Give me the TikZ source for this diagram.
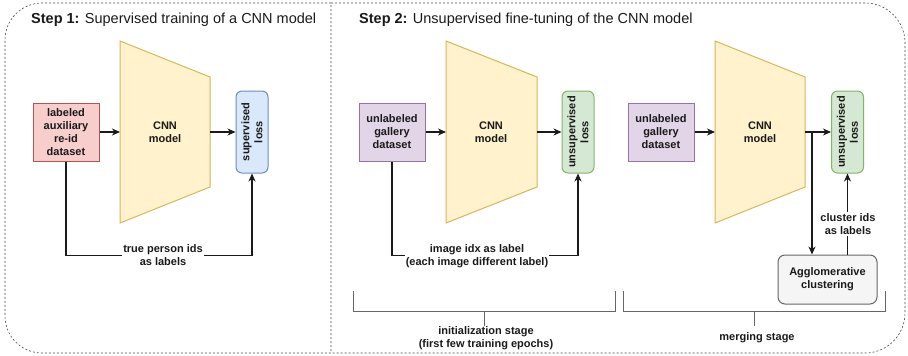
\documentclass[tikz,border=0pt]{standalone}
\usepackage{fontspec}
\setmainfont{Liberation Sans}
\usetikzlibrary{arrows.meta,calc}
\definecolor{redfill}{HTML}{F8CECC}\definecolor{redline}{HTML}{B85450}
\definecolor{yelfill}{HTML}{FFF2CC}\definecolor{yelline}{HTML}{D6B656}
\definecolor{bluefill}{HTML}{DAE8FC}\definecolor{blueline}{HTML}{6C8EBF}
\definecolor{purfill}{HTML}{E1D5E7}\definecolor{purline}{HTML}{9673A6}
\definecolor{grnfill}{HTML}{D5E8D4}\definecolor{grnline}{HTML}{82B366}
\definecolor{gryfill}{HTML}{F5F5F5}\definecolor{gryline}{HTML}{666666}
\definecolor{ink}{HTML}{1A1A1A}
\begin{document}
\begin{tikzpicture}[x=1pt,y=-1pt,
  txt/.style={font=\bfseries\fontsize{11}{13}\selectfont, text=ink, align=center, inner sep=1pt},
  databox/.style={txt, draw, line width=1pt, minimum width=66pt, minimum height=58pt},
  lossbox/.style={draw, line width=1pt, rounded corners=6pt, minimum width=32pt, minimum height=82pt},
  trap/.style={draw=yelline, fill=yelfill, line width=1pt},
  arr/.style={draw=ink, line width=1.2pt, -{Stealth[length=8pt,width=7pt,inset=2.5pt]}},
  lab/.style={txt, fill=white},
  brk/.style={draw=gryline, line width=1pt},
  panel/.style={draw=black!70, line width=0.6pt, dash pattern=on 2pt off 2pt},
  title/.style={anchor=west, font=\fontsize{14.5}{17}\selectfont, text=ink, inner sep=0pt}]
\useasboundingbox (0,0) rectangle (908,356);

% panels
\draw[panel] (331,3) -- (42,3) arc[start angle=270, end angle=180, radius=37] -- (5,316)
  arc[start angle=180, end angle=90, radius=37] -- (331,353) -- cycle;
\draw[panel] (331,3) -- (865,3) arc[start angle=270, end angle=360, radius=40] -- (905,313)
  arc[start angle=0, end angle=90, radius=40] -- (331,353);

\node[title] (title1) at (31,20) {\textbf{Step 1:} Supervised training of a CNN model};
\node[title] (title2) at (359,20) {\textbf{Step 2:} Unsupervised fine-tuning of the CNN model};

% ---------- Step 1
\node[databox, draw=redline, fill=redfill] (data1) at (66,132) {labeled\\auxiliary\\re-id\\dataset};
\draw[trap] (120,41) -- (210,77) -- (210,187) -- (120,223) -- cycle;
\node[txt] (cnn1) at (165,132) {CNN\\model};
\coordinate (t1w) at (120,132); \coordinate (t1e) at (210,132);
\node[lossbox, draw=blueline, fill=bluefill] (loss1) at (252,132) {};
\node[txt, rotate=90] (loss1t) at (loss1.center) {supervised\\loss};
\draw[arr] (data1.east) -- (t1w);
\draw[arr] (t1e) -- (loss1.west);
\draw[arr] (data1.south) -- ++(0,94) -| (loss1.south);
\node[lab] (lab1) at (163,255) {true person ids\\as labels};

% ---------- Step 2: initialization
\node[databox, draw=purline, fill=purfill] (data2) at (392,132) {unlabeled\\gallery\\dataset};
\draw[trap] (446,41) -- (537,77) -- (537,187) -- (446,223) -- cycle;
\node[txt] (cnn2) at (491,132) {CNN\\model};
\coordinate (t2w) at (446,132); \coordinate (t2e) at (537,132);
\node[lossbox, draw=grnline, fill=grnfill] (loss2) at (578,132) {};
\node[txt, rotate=90] (loss2t) at (loss2.center) {unsupervised\\loss};
\draw[arr] (data2.east) -- (t2w);
\draw[arr] (t2e) -- (loss2.west);
\draw[arr] (data2.south) -- ++(0,94) -| (loss2.south);
\node[lab] (lab2) at (477,256) {image idx as label\\(each image different label)};

\draw[brk] (353,291) -- (353,311) -- (615,311) -- (615,291);
\draw[brk] (484,311) -- (484,326);
\node[txt] (stage1) at (486,338) {initialization stage\\(first few training epochs)};

% ---------- Step 2: merging
\node[databox, draw=purline, fill=purfill] (data3) at (661,132) {unlabeled\\gallery\\dataset};
\draw[trap] (715,41) -- (805,77) -- (805,187) -- (715,223) -- cycle;
\node[txt] (cnn3) at (760,132) {CNN\\model};
\coordinate (t3w) at (715,132); \coordinate (t3e) at (805,132);
\node[lossbox, draw=grnline, fill=grnfill] (loss3) at (847.5,132) {};
\node[txt, rotate=90] (loss3t) at (loss3.center) {unsupervised\\loss};
\node[txt, draw=gryline, fill=gryfill, line width=1pt, rounded corners=7pt,
      minimum width=99pt, minimum height=49pt] (agg) at (827.5,279.5) {Agglomerative\\clustering};
\draw[arr] (data3.east) -- (t3w);
\draw[arr] (t3e) -- (loss3.west);
\coordinate (br) at (812,132);
\draw[arr] (br) -- (br |- agg.north);
\draw[arr] (loss3.south |- agg.north) -- (loss3.south);
\node[lab] (lab3) at (848,224) {cluster ids\\as labels};

\draw[brk] (623,291) -- (623,311) -- (885,311) -- (885,291);
\draw[brk] (754,311) -- (754,326);
\node[txt] (stage2) at (757,338) {merging stage};
\end{tikzpicture}
\end{document}
